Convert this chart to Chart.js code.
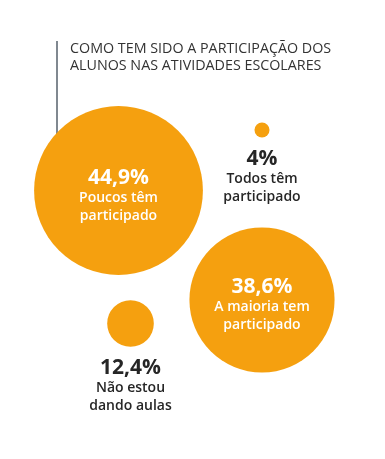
<!DOCTYPE html>
<html lang="pt-BR">
<head>
<meta charset="utf-8">
<title>Participação dos alunos</title>
<script src="https://cdn.jsdelivr.net/npm/chart.js@4.4.1/dist/chart.umd.min.js"></script>
<style>
  html, body { margin: 0; padding: 0; background: #fff; }
  #wrap { width: 385px; height: 459px; position: relative; }
</style>
</head>
<body>
<div id="wrap"><canvas id="chart" width="385" height="459"></canvas></div>
<script>
/* Participação dos alunos nas atividades escolares - bolhas com raio proporcional ao valor */
const titleLines = ['COMO TEM SIDO A PARTICIPAÇÃO DOS', 'ALUNOS NAS ATIVIDADES ESCOLARES'];
const values = [44.9, 4, 38.6, 12.4];
const valueLabels = ['44,9%', '4%', '38,6%', '12,4%'];
const categoryLines = [
  ['Poucos têm', 'participado'],
  ['Todos têm', 'participado'],
  ['A maioria tem', 'participado'],
  ['Não estou', 'dando aulas']
];

// layout (unidades dos eixos, não dados)
const posX = [118.5, 262, 262, 130.5];
const posY = [190.5, 130, 300, 323.5];
const PX_PER_PCT = 1.88;
const ORANGE = '#f5a00f';
const DARK = '#262626';
const FONT = '"Open Sans", sans-serif';

const labelPlugin = {
  id: 'bubbleLabels',
  beforeDatasetsDraw(chart) {
    const ctx = chart.ctx;
    ctx.save();
    // linha vertical à esquerda do título
    ctx.strokeStyle = '#56606b';
    ctx.lineWidth = 1.5;
    ctx.beginPath();
    ctx.moveTo(57, 41);
    ctx.lineTo(57, 150);
    ctx.stroke();
    // título
    ctx.fillStyle = '#333';
    ctx.font = '14.3px ' + FONT;
    ctx.textAlign = 'left';
    ctx.textBaseline = 'alphabetic';
    titleLines.forEach((t, i) => ctx.fillText(t, 70, 52.5 + i * 17));
    ctx.restore();
  },
  afterDatasetsDraw(chart) {
    const ctx = chart.ctx;
    const meta = chart.getDatasetMeta(0);
    ctx.save();
    ctx.textAlign = 'center';
    ctx.textBaseline = 'alphabetic';
    meta.data.forEach((pt, i) => {
      const r = pt.options.radius;
      const inside = r > 40;
      let base;
      if (inside) {
        ctx.fillStyle = '#fff';
        base = pt.y - 7;
      } else {
        ctx.fillStyle = DARK;
        base = pt.y + r + 27;
      }
      ctx.font = 'bold 21px ' + FONT;
      ctx.fillText(valueLabels[i], pt.x, base);
      ctx.font = '600 14px ' + FONT;
      categoryLines[i].forEach((l, j) => ctx.fillText(l, pt.x, base + 18 * (j + 1)));
    });
    ctx.restore();
  }
};

new Chart(document.getElementById('chart'), {
  type: 'bubble',
  data: {
    datasets: [{
      label: 'Participação',
      data: values.map((v, i) => ({ x: posX[i], y: posY[i], r: v * PX_PER_PCT })),
      backgroundColor: ORANGE,
      borderWidth: 0,
      hoverBorderWidth: 0,
      clip: false
    }]
  },
  options: {
    responsive: false,
    animation: false,
    events: [],
    layout: { padding: 0, autoPadding: false },
    plugins: { legend: { display: false }, tooltip: { enabled: false } },
    scales: {
      x: { type: 'linear', min: 0, max: 385, display: false },
      y: { type: 'linear', min: 0, max: 459, reverse: true, display: false }
    }
  },
  plugins: [labelPlugin]
});
</script>
</body>
</html>
